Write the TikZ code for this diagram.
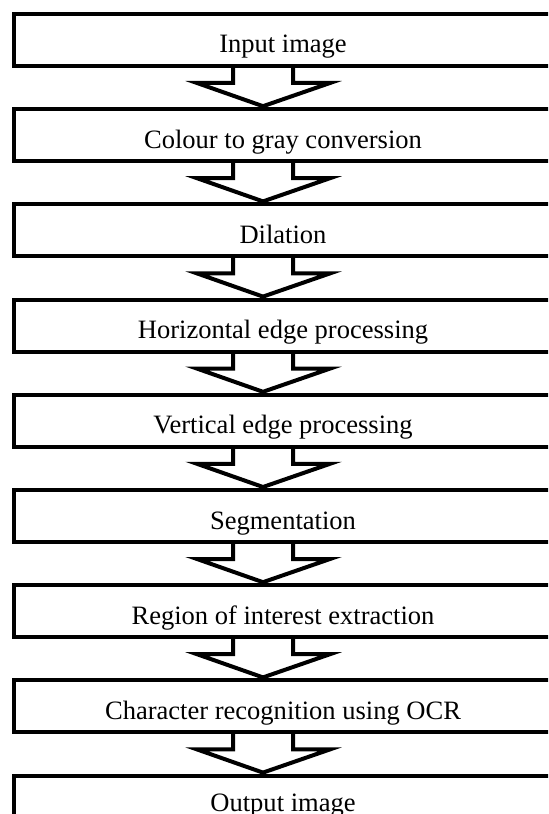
\documentclass[tikz,border=0pt]{standalone}
\usepackage{fontspec}
\setmainfont{Liberation Serif}
\usetikzlibrary{calc}
\tikzset{stepbox/.style={draw, line width=0.08cm, outer sep=0pt, inner sep=0pt,
    minimum width=10.76cm, minimum height=1.04cm,
    font=\fontsize{15.1pt}{18pt}\selectfont, text height=19pt, text depth=4.2pt}}
\tikzset{blockarrow/.style={draw, line width=0.08cm, line join=miter,
    to path={($(\tikztostart.south)+(-50,0)$) -- ($(\tikztostart.south)+(-50,17)$)
      -- ($(\tikztostart.south)+(-86,17)$) -- ($(\tikztotarget.north)+(-20,-3)$)
      -- ($(\tikztostart.south)+(47,17)$) -- ($(\tikztostart.south)+(10,17)$)
      -- ($(\tikztostart.south)+(10,0)$)}}}

\begin{document}
\begin{tikzpicture}[x=0.02cm, y=-0.02cm]
      \useasboundingbox (0, 0) rectangle (548, 814);
      \clip (0, 0) rectangle (548, 814);

      \node[stepbox] (input) at (283, 40) {Input image};
      \node[stepbox] (gray) at (283, 135.2) {Colour to gray conversion};
      \node[stepbox] (dil) at (283, 230.4) {Dilation};
      \node[stepbox] (hor) at (283, 325.6) {Horizontal edge processing};
      \node[stepbox] (ver) at (283, 420.8) {Vertical edge processing};
      \node[stepbox] (seg) at (283, 516) {Segmentation};
      \node[stepbox] (roi) at (283, 611.2) {Region of interest extraction};
      \node[stepbox] (ocr) at (283, 706.4) {Character recognition using OCR};
      \node[stepbox, text depth=7.6pt] (out) at (283, 801.6) {Output image};

      \draw[blockarrow] (input) to (gray);
      \draw[blockarrow] (gray) to (dil);
      \draw[blockarrow] (dil) to (hor);
      \draw[blockarrow] (hor) to (ver);
      \draw[blockarrow] (ver) to (seg);
      \draw[blockarrow] (seg) to (roi);
      \draw[blockarrow] (roi) to (ocr);
      \draw[blockarrow] (ocr) to (out);
    \end{tikzpicture}
\end{document}
